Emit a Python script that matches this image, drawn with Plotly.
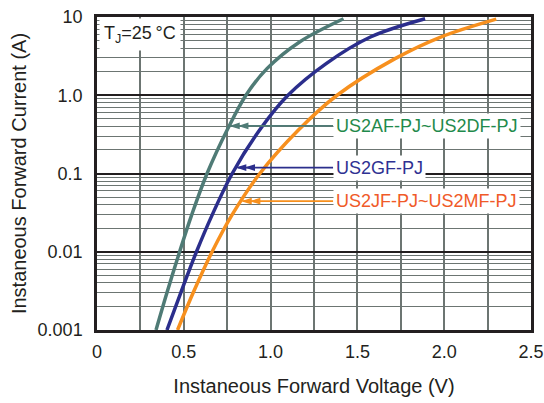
import math
import plotly.graph_objects as go

# ---- data ----
series_names = ["US2AF-PJ~US2DF-PJ", "US2GF-PJ", "US2JF-PJ~US2MF-PJ"]

teal_current = [0.001, 0.0031, 0.01, 0.0294, 0.1, 0.376, 1.0, 2.19, 4.8, 9.5]
teal_voltage = [0.340, 0.405, 0.476, 0.545, 0.634, 0.754, 0.858, 0.979, 1.167, 1.420]

navy_current = [0.001, 0.0031, 0.01, 0.0294, 0.1, 0.376, 1.0, 2.54, 5.55, 9.5]
navy_voltage = [0.403, 0.485, 0.573, 0.663, 0.779, 0.943, 1.100, 1.320, 1.575, 1.890]

orange_current = [0.001, 0.0031, 0.01, 0.0294, 0.1, 0.357, 1.0, 2.94, 5.55, 9.4]
orange_voltage = [0.464, 0.557, 0.663, 0.777, 0.938, 1.159, 1.383, 1.717, 1.980, 2.300]

# arrow tips (voltage, current) on each curve, and label start voltage
arrow_tip_voltage = [0.762, 0.800, 0.831]
arrow_tip_current = [0.406, 0.119, 0.0443]
label_voltage = 1.36

x_tick_vals = [0, 0.5, 1.0, 1.5, 2.0, 2.5]
x_tick_text = ["0", "0.5", "1.0", "1.5", "2.0", "2.5"]
y_tick_vals = [0.001, 0.01, 0.1, 1, 10]
y_tick_text = ["0.001", "0.01", "0.1", "1.0", "10"]

line_colors = ["#4f7b76", "#2b2e8c", "#f7901e"]
label_colors = ["#1f8a4c", "#2e3192", "#f05a28"]
INK = "#231f20"
GRID = "#6c7572"
FONT = "Liberation Sans, Arial, sans-serif"

fig = go.Figure()
for name, v, i, c in zip(series_names,
                         [teal_voltage, navy_voltage, orange_voltage],
                         [teal_current, navy_current, orange_current],
                         line_colors):
    fig.add_trace(go.Scatter(x=v, y=i, mode="lines", name=name,
                             line=dict(color=c, width=3.5, shape="spline", smoothing=1.0),
                             showlegend=False, hoverinfo="skip"))

# arrows: shaft from label to curve, double arrowhead at the curve
for k in range(3):
    tip_v = arrow_tip_voltage[k]
    tip_i = arrow_tip_current[k]
    fig.add_trace(go.Scatter(x=[label_voltage, tip_v + 0.01], y=[tip_i, tip_i], mode="lines",
                             line=dict(color=line_colors[k], width=1.6),
                             showlegend=False, hoverinfo="skip"))
    fig.add_trace(go.Scatter(x=[tip_v, tip_v + 0.05], y=[tip_i, tip_i], mode="markers",
                             marker=dict(symbol="arrow", angle=-90, size=11,
                                         color=line_colors[k], line=dict(width=0)),
                             showlegend=False, hoverinfo="skip"))

annotations = []
# T_J label
annotations.append(dict(xref="paper", yref="paper", x=0, y=1, xanchor="left", yanchor="top",
                        text="T<sub>J</sub>=25\u2009°C", showarrow=False,
                        font=dict(family=FONT, size=18, color=INK),
                        bgcolor="white", borderpad=4, xshift=2, yshift=-1))

for k in range(3):
    ty = math.log10(arrow_tip_current[k])
    annotations.append(dict(x=label_voltage, y=ty, xref="x", yref="y", xanchor="left",
                            yanchor="middle", text=series_names[k], showarrow=False,
                            font=dict(family=FONT, size=18, color=label_colors[k]),
                            bgcolor="white", borderpad=2))

fig.update_layout(
    width=544, height=403,
    margin=dict(l=97, r=13, t=17, b=73),
    paper_bgcolor="white", plot_bgcolor="white",
    annotations=annotations,
    xaxis=dict(range=[0, 2.5], tickmode="array", tickvals=x_tick_vals, ticktext=x_tick_text,
               showgrid=True, gridcolor=GRID, gridwidth=1.5,
               minor=dict(dtick=0.25, showgrid=True, gridcolor=GRID, gridwidth=1.5),
               showline=True, linecolor=INK, linewidth=2.5, mirror=True,
               ticks="", ticklabelstandoff=4, zeroline=False, automargin=False,
               tickfont=dict(family=FONT, size=18, color=INK),
               title=dict(text="Instaneous Forward Voltage (V)", standoff=18,
                          font=dict(family=FONT, size=20, color=INK))),
    yaxis=dict(type="log", range=[-3, 1], tickmode="array", tickvals=y_tick_vals, ticktext=y_tick_text,
               showgrid=True, gridcolor=INK, gridwidth=2,
               minor=dict(dtick="D1", showgrid=True, gridcolor=GRID, gridwidth=1.3),
               showline=True, linecolor=INK, linewidth=2.5, mirror=True,
               ticks="", ticklabelstandoff=8, automargin=False,
               tickfont=dict(family=FONT, size=18, color=INK),
               title=dict(text="Instaneous Forward Current (A)", standoff=6,
                          font=dict(family=FONT, size=20, color=INK))),
)

fig.write_html("out.html", config={"displayModeBar": False},
               post_script="document.body.style.margin='0';document.body.style.overflow='hidden';")
